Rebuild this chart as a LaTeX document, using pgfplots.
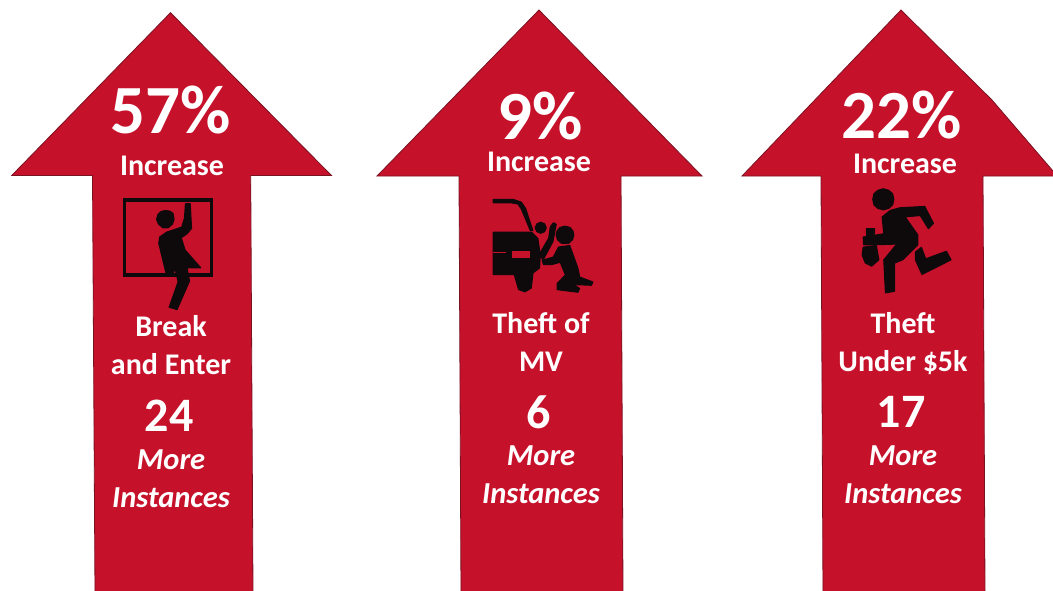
\documentclass[border=0pt]{standalone}
\usepackage{pgfplots}
\pgfplotsset{compat=1.18}
\usepackage{fontspec}
\setmainfont{Carlito}
\definecolor{arrowred}{HTML}{C6112B}
\definecolor{arrowedge}{HTML}{7A1222}
\definecolor{iconblack}{HTML}{0E0A0C}
% large figures are centred on their glyphs, running text on a fixed line box
\newcommand{\figlab}[4]{\node[text=white,font=\bfseries\fontsize{#3}{#3}\selectfont,anchor=center,inner sep=0pt] at (axis cs:#1,#2) {#4};}
\newcommand{\lab}[3]{\node[text=white,font=\bfseries\fontsize{30pt}{30pt}\selectfont,anchor=center,inner sep=0pt,text height=22pt,text depth=2.2pt] at (axis cs:#1,#2) {#3};}
\newcommand{\labi}[3]{\node[text=white,font=\bfseries\itshape\fontsize{30.5pt}{30.5pt}\selectfont,anchor=center,inner sep=0pt,text height=22pt,text depth=2.2pt] at (axis cs:#1,#2) {#3};}
\pgfplotsset{
  arrowshape/.style={fill=arrowred,draw=arrowedge,line width=0.8pt,line join=miter},
  iconshape/.style={fill=iconblack,draw=iconblack,line width=1.2pt,line join=round},
  iconhole/.style={fill=arrowred,draw=none},
}
\begin{document}
\begin{tikzpicture}
\path[use as bounding box] (0,0) rectangle (1053pt,590pt);
\begin{axis}[
  at={(0,0)},anchor=south west,
  width=1053pt,height=590pt,scale only axis,
  xmin=0,xmax=1053,ymin=0,ymax=590,y dir=reverse,
  hide axis,clip=true,
]
% the three arrows
\addplot[arrowshape] coordinates {(170.5,12.7)(331.5,175.5)(250.7,175.5)(253,592)(95,592)(92.5,175.5)(11.7,175.5)} -- cycle;
\addplot[arrowshape] coordinates {(539,10)(702,176)(621,176)(623,592)(461,592)(459,176)(377,176)} -- cycle;
\addplot[arrowshape] coordinates {(901,10)(992,100)(1053,171)(1057,176)(983,176)(985,592)(823,592)(821,176)(742,176)} -- cycle;

% burglar: window frame
\addplot[fill=iconblack,draw=none] coordinates {(122.7,197.7)(213.3,197.7)(213.3,276.7)(122.7,276.7)} -- cycle;
\addplot[iconhole] coordinates {(126.3,201.7)(210.3,201.7)(210.3,273)(126.3,273)} -- cycle;
% burglar: figure
\addplot[iconshape] coordinates {(165.3,210.6)(170,211.2)(173,213.5)(174,219.3)(172.5,224)(168,227.8)(163,227.8)(158.5,224)(156.6,219.3)(158,214.5)(161,211.6)} -- cycle;
\addplot[iconshape] coordinates {(185.5,203.8)(190.2,203.8)(191.5,228.3)(187,233.8)(181.2,237.7)(185,250)(200.7,267.8)(187,267.8)(189.5,281)(177,309.5)(169.2,307.2)(178.2,281.7)(175,268.3)(172.7,274.5)(166.4,274.5)(158.8,243.3)(159.8,237)(166.7,232.2)(181.7,227.2)(184.5,218.3)} -- cycle;

% car thief: car
\addplot[iconshape] coordinates {(493.2,199.5)(513.3,199.5)(521.4,202.2)(525.6,208.6)(532.8,230.5)(530.3,230.5)(521.4,209)(518,204)(511.7,202.8)(493.2,202.8)} -- cycle;
\addplot[iconshape] coordinates {(493.2,232.2)(531.5,232.2)(537.8,238.5)(540.2,255)(539.5,268)(533,272.8)(531.2,288)(525,291.8)(518.6,289.5)(514.3,274.5)(493.2,274.5)} -- cycle;
\addplot[iconhole] coordinates {(511.7,250.7)(530,250.7)(530,258.3)(511.7,258.3)} -- cycle;
\addplot[iconhole] coordinates {(492.7,251.7)(506,251.7)(506,253.3)(492.7,253.3)} -- cycle;
% car thief: hand and crowbar
\addplot[iconshape] coordinates {(540.7,222.2)(544.6,223.9)(546.2,227.7)(544.6,231.6)(540.7,233.2)(536.9,231.6)(535.2,227.7)(536.9,223.9)} -- cycle;
\addplot[iconshape] coordinates {(550.4,226.7)(553.5,222.8)(556.2,224.4)(552.9,241.5)(543.3,259.5)(538.9,255)(548.7,238.3)} -- cycle;
% car thief: figure
\addplot[iconshape] coordinates {(565,226.2)(570,227.5)(573,231.2)(573.8,235)(572.5,239.7)(568.5,243.3)(561.5,243.3)(557.5,239.7)(556.2,235)(557,231.2)(560,227.5)} -- cycle;
\addplot[iconshape] coordinates {(558.6,247.1)(569.7,245.5)(577.9,268.4)(579.7,277.1)(592.8,282)(591.4,285.2)(573.3,284.5)(579.5,288.4)(578,292.2)(557.2,289.6)(557.2,283.5)(565.5,275)(560.2,262.2)(551.7,264.5)(543.6,264.5)(542.2,260.3)(553.3,257.1)} -- cycle;

% running thief: head
\addplot[iconshape] coordinates {(883.3,188.8)(888.7,190.4)(892.6,193.8)(893.8,199.3)(892.6,204.8)(888.7,208.3)(883.3,209.8)(877.8,208.3)(874,204.8)(872.8,199.3)(874,193.8)(877.8,190.4)} -- cycle;
% running thief: body and legs
\addplot[iconshape] coordinates {(900,207.8)(924.7,206.5)(933.4,223.3)(928.4,228.6)(920.3,215.5)(905,216.8)(917.8,235)(917.8,244.8)(903,259.6)(894.5,263)(894.5,291.2)(885.5,292.8)(883.8,260)(890.3,252)(897,243.8)(890,244.3)(863.8,244.8)(863.2,237.1)(883.8,233.8)(882.2,217)(890.2,210.5)} -- cycle;
\addplot[iconshape] coordinates {(915.5,251.9)(921.4,247.5)(925.7,258.9)(946.4,251.3)(951,259.8)(922,274.4)(915.5,259.9)} -- cycle;
% running thief: bag
\addplot[iconshape] coordinates {(863.2,247.2)(876.3,245.5)(878.8,259.8)(871.6,266.1)(865.3,262.9)(862.2,255)} -- cycle;
\addplot[iconshape] coordinates {(866.5,228.8)(874.5,228.8)(874.5,232.5)(873,238)(867,238)(866.5,232.5)} -- cycle;

% captions, left column
\figlab{171}{110}{69pt}{57\%}
\lab{172}{166}{Increase}
\lab{171}{327}{Break}
\lab{171}{365}{and Enter}
\figlab{169}{416}{48pt}{24}
\labi{171}{460}{More}
\labi{171}{498}{Instances}
% captions, middle column
\figlab{540}{116}{69pt}{9\%}
\lab{539}{162}{Increase}
\lab{541}{324}{Theft of}
\lab{541}{362}{MV}
\figlab{539}{412}{48pt}{6}
\labi{541}{456}{More}
\labi{541}{494}{Instances}
% captions, right column
\figlab{902}{115}{69pt}{22\%}
\lab{905}{164}{Increase}
\lab{903}{324}{Theft}
\lab{903}{362}{Under \$5k}
\figlab{901}{412}{48pt}{17}
\labi{903}{456}{More}
\labi{903}{494}{Instances}
\end{axis}
\end{tikzpicture}
\end{document}
